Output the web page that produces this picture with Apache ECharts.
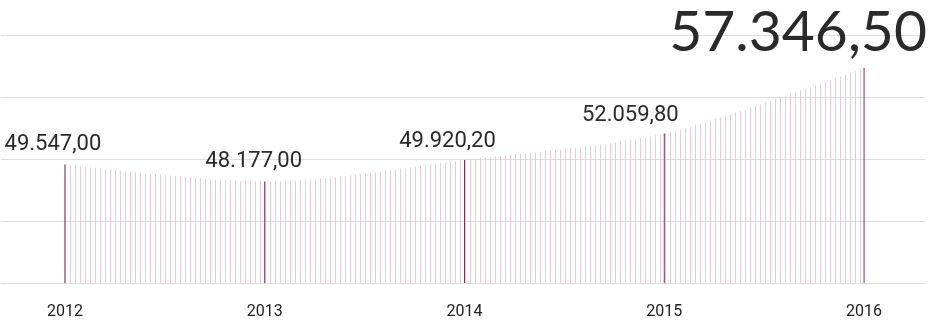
<!DOCTYPE html>
<html><head><meta charset="utf-8">
<script src="https://cdn.jsdelivr.net/npm/echarts@6/dist/echarts.min.js"></script>
<style>html,body{margin:0;padding:0;background:#fff}#c{width:944px;height:324px}</style>
</head><body><div id="c"></div>
<script>
// ---- data ----
const years = [2012, 2013, 2014, 2015, 2016];
const values = [49547.00, 48177.00, 49920.20, 52059.80, 57346.50];
const yMin = 40000, yMax = 60000, yStep = 5000;

// ---- styling (not data) ----
const labelOffsets = [[-12, -4], [-11, -4], [-17, -2], [-34, -2], [-66, -2]];
const labelSizes = [22, 22, 22, 22, 57];
const labelFonts = ['Roboto', 'Roboto', 'Roboto', 'Roboto', 'Lato'];

function fmt(v) {
  const parts = v.toFixed(2).split('.');
  return parts[0].replace(/\B(?=(\d{3})+(?!\d))/g, '.') + ',' + parts[1];
}

const stripe = document.createElement('canvas');
stripe.width = 5; stripe.height = 4;
const sctx = stripe.getContext('2d');
sctx.fillStyle = '#e8cbd7';
sctx.fillRect(0, 0, 1, 4);

const pts = years.map((y, i) => [y, values[i]]);
const barData = years.map((y, i) => ({
  value: [y, values[i]],
  label: {
    offset: labelOffsets[i],
    fontSize: labelSizes[i],
    fontFamily: labelFonts[i]
  }
}));

const chart = echarts.init(document.getElementById('c'), null, {renderer: 'canvas'});
chart.setOption({
  animation: false,
  backgroundColor: '#fff',
  grid: {left: 1, right: 19, top: 35, bottom: 41, containLabel: false},
  xAxis: {
    type: 'value',
    min: 2011.68, max: 2016.305,
    axisLine: {show: true, lineStyle: {color: '#dddddd', width: 1}},
    axisTick: {show: false},
    splitLine: {show: false},
    axisLabel: {
      customValues: years,
      formatter: v => String(v),
      color: '#222', fontSize: 16, fontFamily: 'Roboto', margin: 21
    }
  },
  yAxis: {
    type: 'value',
    min: yMin, max: yMax, interval: yStep,
    axisLine: {show: false}, axisTick: {show: false}, axisLabel: {show: false},
    splitLine: {show: true, lineStyle: {color: '#dddddd', width: 1}}
  },
  series: [
    {
      type: 'line',
      data: pts,
      smooth: 0.3,
      symbol: 'none',
      lineStyle: {width: 0, opacity: 0},
      areaStyle: {origin: 'start', color: {image: stripe, repeat: 'repeat'}, opacity: 1},
      z: 2,
      silent: true
    },
    {
      type: 'bar',
      data: barData,
      barWidth: 1,
      itemStyle: {color: '#7b2d55'},
      label: {
        show: true, position: 'top', distance: 5,
        color: '#2a2a2a',
        formatter: p => fmt(p.value[1])
      },
      z: 3
    }
  ]
});
</script>
</body></html>
